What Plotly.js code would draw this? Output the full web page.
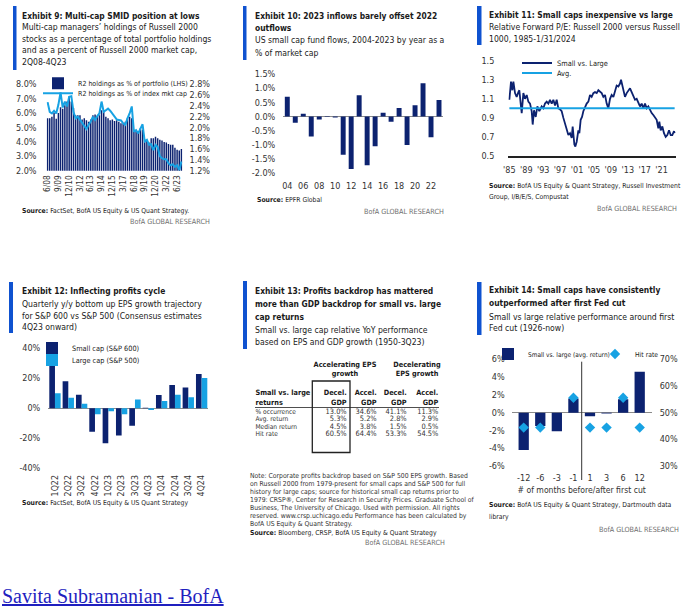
<!DOCTYPE html>
<html>
<head>
<meta charset="utf-8">
<script src="https://cdn.plot.ly/plotly-3.0.1.min.js"></script>
<style>
html,body{margin:0;padding:0;background:#fff;}
#chart{width:696px;height:608px;}
</style>
</head>
<body>
<div id="chart"></div>
<script>
// ================= DATA =================
// Exhibit 9: multi-cap managers' Russell 2000 holdings (quarterly, 2Q08-4Q23)
const ex9Quarters = ["6/08","9/08","12/08",
 "3/09","6/09","9/09","12/09","3/10","6/10","9/10","12/10","3/11","6/11","9/11","12/11",
 "3/12","6/12","9/12","12/12","3/13","6/13","9/13","12/13","3/14","6/14","9/14","12/14",
 "3/15","6/15","9/15","12/15","3/16","6/16","9/16","12/16","3/17","6/17","9/17","12/17",
 "3/18","6/18","9/18","12/18","3/19","6/19","9/19","12/19","3/20","6/20","9/20","12/20",
 "3/21","6/21","9/21","12/21","3/22","6/22","9/22","12/22","3/23","6/23","9/23","12/23"];
const ex9Portfolio = [5.65,5.65,5.75,
 6.0,5.6,6.0,6.4, 6.3,6.55,6.8,7.15, 6.8,6.35,5.85,5.85,
 5.85,5.55,5.65,5.5, 5.4,5.55,5.85,5.9, 5.75,5.85,6.2,6.1,
 5.75,5.65,5.5,5.55, 5.45,5.5,5.4,5.3, 5.25,5.4,5.65,5.75,
 5.65,4.85,4.75,4.7, 4.95,4.85,4.0,4.15, 3.95,4.25,4.25,4.35,
 4.25,4.15,4.1,4.0, 3.95,3.85,3.8,3.8, 3.6,3.45,3.4,3.5];
const ex9IndexCap = [2.47,2.29,2.26,
 2.31,2.26,2.42,2.65, 2.37,2.48,2.39,2.57, 2.58,2.29,2.17,2.20,
 2.14,2.08,2.02,1.97, 2.05,2.11,2.20,2.14, 2.21,2.26,2.48,2.29,
 2.32,2.35,2.31,2.26, 2.20,2.15,2.14,2.13, 2.08,2.05,2.17,2.26,
 2.39,1.92,1.95,1.89, 1.98,2.06,1.74,1.77, 1.68,1.69,1.58,1.68,
 1.64,1.47,1.43,1.41, 1.41,1.34,1.30,1.32, 1.27,1.30,1.21,1.37];
const ex9TickLabels = ["6/08","9/09","12/10","3/12","6/13","9/14","12/15","3/17","6/18","9/19","12/20","3/22","6/23"];
const ex9LeftTicks = [2,3,4,5,6,7,8];
const ex9LeftText = ["2.0%","3.0%","4.0%","5.0%","6.0%","7.0%","8.0%"];
const ex9RightTicks = [1.2,1.4,1.6,1.8,2.0,2.2,2.4,2.6,2.8];
const ex9RightText = ["1.2%","1.4%","1.6%","1.8%","2.0%","2.2%","2.4%","2.6%","2.8%"];

// Exhibit 10: US small cap fund flows as % of market cap
const ex10Years = ["04","05","06","07","08","09","10","11","12","13","14","15","16","17","18","19","20","21","22","23"];
const ex10Flows = [0.70,-0.22,0.10,-0.70,-0.10,-0.02,-0.03,-1.35,-1.85,0.75,-1.72,-1.05,0.13,-0.18,0.30,-1.00,0.40,1.17,-0.73,0.58];
const ex10TickLabels = ["04","06","08","10","12","14","16","18","20","22"];
const ex10YTicks = [-2,-1.5,-1,-0.5,0,0.5,1,1.5];
const ex10YText = ["-2.0%","-1.5%","-1.0%","-0.5%","0.0%","0.5%","1.0%","1.5%"];

// Exhibit 11: relative forward P/E Russell 2000 vs Russell 1000
const ex11Dates = [1985.00,1985.16,1985.39,1985.71,1985.95,1986.34,1986.73,1987.13,1987.36,1987.68,1987.92,
 1988.31,1988.70,1989.10,1989.49,1989.89,1990.28,1990.52,1990.83,1991.23,1991.62,1992.09,1992.64,
 1993.04,1993.43,1993.83,1994.22,1994.61,1995.01,1995.40,1995.80,1996.19,1996.58,1996.98,1997.37,
 1997.77,1998.16,1998.55,1998.95,1999.34,1999.74,1999.97,2000.13,2000.37,2000.60,2000.92,2001.31,
 2001.55,2001.86,2002.18,2002.49,2002.89,2003.28,2003.68,2004.07,2004.46,2004.86,2005.25,2005.65,
 2006.04,2006.43,2006.83,2007.22,2007.62,2008.01,2008.40,2008.80,2009.19,2009.59,2009.98,2010.37,
 2010.77,2011.16,2011.40,2011.71,2011.95,2012.34,2012.74,2013.13,2013.53,2013.92,2014.31,2014.71,
 2015.10,2015.50,2015.89,2016.28,2016.68,2017.07,2017.47,2017.86,2018.25,2018.65,2019.04,2019.44,
 2019.83,2020.22,2020.46,2020.78,2021.17,2021.56,2021.96,2022.35,2022.75,2023.14,2023.53,2023.93,2024.08];
const ex11SmallVsLarge = [1.09,1.17,1.28,1.19,1.28,1.16,1.12,1.17,1.19,1.05,0.95,
 1.16,1.10,1.14,1.07,1.05,0.97,0.83,0.98,0.91,1.02,0.97,1.02,
 1.00,1.05,1.07,1.05,1.09,1.05,1.09,1.03,1.09,1.00,0.99,0.97,
 0.90,0.84,0.76,0.72,0.74,0.69,0.81,0.70,0.62,0.60,0.65,0.77,
 0.74,0.88,0.91,0.97,1.02,1.05,1.07,1.14,1.12,1.16,1.17,1.16,
 1.19,1.17,1.16,1.12,1.14,1.05,1.00,1.10,1.14,1.12,1.19,1.24,
 1.23,1.26,1.30,1.24,1.17,1.12,1.16,1.19,1.21,1.17,1.12,1.09,
 1.10,1.05,1.02,1.05,1.00,1.05,1.00,1.02,0.98,0.95,0.93,0.90,
 0.88,0.79,0.86,0.77,0.81,0.74,0.70,0.72,0.77,0.72,0.72,0.76,0.74];
const ex11Avg = 1.0;
const ex11TickVals = [1985,1989,1993,1997,2001,2005,2009,2013,2017,2021];
const ex11TickText = ["'85","'89","'93","'97","'01","'05","'09","'13","'17","'21"];
const ex11YTicks = [0.5,0.7,0.9,1.1,1.3,1.5];
const ex11YText = ["0.5","0.7","0.9","1.1","1.3","1.5"];

// Exhibit 12: quarterly y/y EPS growth
const ex12Quarters = ["1Q22","2Q22","3Q22","4Q22","1Q23","2Q23","3Q23","4Q23","1Q24","2Q24","3Q24","4Q24"];
const ex12Small = [29.1,18.0,9.1,-15.6,-23.3,-18.2,-11.6,0.3,8.9,15.6,13.8,22.9];
const ex12Large = [10.0,7.1,3.1,-4.0,-2.0,-4.0,5.8,-1.1,4.9,9.1,7.3,20.2];
const ex12YTicks = [-40,-20,0,20,40];
const ex12YText = ["-40%","-20%","0%","20%","40%"];

// Exhibit 13: table
const ex13GroupTop = ["Accelerating EPS","Decelerating"];
const ex13GroupBottom = ["growth","EPS growth"];
const ex13RowHeader = ["Small vs. large","returns"];
const ex13ColTop = ["Decel.","Accel.","Decel.","Accel."];
const ex13ColBottom = ["GDP","GDP","GDP","GDP"];
const ex13RowLabels = ["% occurrence","Avg. return","Median return","Hit rate"];
const ex13AccEpsDecGdp = [13.0,5.3,4.5,60.5];
const ex13AccEpsAccGdp = [34.6,5.2,3.8,64.4];
const ex13DecEpsDecGdp = [41.1,2.8,1.5,53.3];
const ex13DecEpsAccGdp = [11.3,2.9,0.5,54.5];

// Exhibit 14: around first Fed cut
const ex14Months = ["-12","-6","-3","-1","1","3","6","12"];
const ex14AvgReturn = [-4.2,-1.5,-2.1,1.6,-0.4,-0.1,1.5,4.6];
const ex14HitRate = [44.4,44.4,null,55.6,44.4,44.4,55.6,44.4];
const ex14YTicks = [-6,-4,-2,0,2,4,6];
const ex14YText = ["-6%","-4%","-2%","0%","2%","4%","6%"];
const ex14Y2Ticks = [30,40,50,60,70];
const ex14Y2Text = ["30%","40%","50%","60%","70%"];

// ================= STYLE / LAYOUT =================
const W = 696, H = 608;
const px = v => v / W, py = v => 1 - v / H;
const FONT = '"Liberation Sans Narrow","DejaVu Sans Condensed","Roboto Condensed","Arial Narrow",Roboto,sans-serif';
const NAVY = '#0c2270', LBLUE = '#17a2e3', TXT = '#1a1a1a', TICK = '#333333', ACCENT = '#0f52d0';
const TS = 8.4;   // title size
const SS = 8.6;   // subtitle size
const SRC = 6.8;  // source size

const traces = [];
// Exhibit 9
traces.push({type:'bar', x:ex9Quarters, y:ex9Portfolio, xaxis:'x', yaxis:'y', width:0.68,
  marker:{color:NAVY, line:{width:0}}, name:'R2 holdings as % of portfolio (LHS)', legend:'legend'});
traces.push({type:'scatter', mode:'lines', x:ex9Quarters, y:ex9IndexCap, xaxis:'x', yaxis:'y2',
  line:{color:LBLUE, width:2}, name:'R2 holdings as % of index mkt cap', legend:'legend2'});
// Exhibit 10
traces.push({type:'bar', x:ex10Years, y:ex10Flows, xaxis:'x2', yaxis:'y3', width:0.62,
  marker:{color:NAVY}, showlegend:false});
// Exhibit 11
traces.push({type:'scatter', mode:'lines', x:ex11Dates, y:ex11SmallVsLarge, xaxis:'x3', yaxis:'y4',
  line:{color:NAVY, width:1.8}, name:'Small vs. Large', legend:'legend3'});
traces.push({type:'scatter', mode:'lines', x:[ex11Dates[0], ex11Dates[ex11Dates.length-1]], y:[ex11Avg, ex11Avg],
  xaxis:'x3', yaxis:'y4', line:{color:LBLUE, width:2}, name:'Avg.', legend:'legend4'});
// Exhibit 12
traces.push({type:'bar', x:ex12Quarters, y:ex12Small, xaxis:'x4', yaxis:'y5',
  marker:{color:NAVY}, name:'Small cap (S&amp;P 600)', legend:'legend5'});
traces.push({type:'bar', x:ex12Quarters, y:ex12Large, xaxis:'x4', yaxis:'y5',
  marker:{color:LBLUE}, name:'Large cap (S&amp;P 500)', legend:'legend6'});
// Exhibit 14
traces.push({type:'bar', x:ex14Months, y:ex14AvgReturn, xaxis:'x5', yaxis:'y6', width:0.62,
  marker:{color:NAVY}, name:'Small vs. large (avg. return)', legend:'legend7'});
traces.push({type:'scatter', mode:'markers', x:ex14Months, y:ex14HitRate, xaxis:'x5', yaxis:'y7',
  marker:{symbol:'diamond', size:8, color:LBLUE}, name:'Hit rate', legend:'legend8'});

// Exhibit 13 table as text marks on a pixel-unit axis pair (x6 / y8)
const colX = [346.7, 376.7, 406.7, 438.3];
const labelX = 255.5;
const rowY = [412, 419.5, 427, 434.5];
const fmt = v => v.toFixed(1) + '%';
const tblText = (x, y, text, pos, size, color, bold) => traces.push({type:'scatter', mode:'text', x, y,
  text: text.map(t => bold ? '<b>' + t + '</b>' : t), textposition:pos, xaxis:'x6', yaxis:'y8', showlegend:false,
  textfont:{family:FONT, size, color}, cliponaxis:false});
const HS = 7.3;
tblText([345, 417], [365, 365], ex13GroupTop, 'middle center', HS, TXT, true);
tblText([345, 417], [374.3, 374.3], ex13GroupBottom, 'middle center', HS, TXT, true);
tblText([labelX], [393.3], [ex13RowHeader[0]], 'middle right', HS, TXT, true);
tblText([labelX], [402.7], [ex13RowHeader[1]], 'middle right', HS, TXT, true);
tblText(colX, colX.map(() => 393.3), ex13ColTop, 'middle left', HS, TXT, true);
tblText(colX, colX.map(() => 402.7), ex13ColBottom, 'middle left', HS, TXT, true);
tblText(rowY.map(() => labelX), rowY, ex13RowLabels, 'middle right', 6.6, '#333', false);
[ex13AccEpsDecGdp, ex13AccEpsAccGdp, ex13DecEpsDecGdp, ex13DecEpsAccGdp].forEach((col, j) =>
  tblText(rowY.map(() => colX[j]), rowY, col.map(fmt), 'middle left', 7.4, '#333', false));

const axBase = {showgrid:false, zeroline:false, ticks:'', showline:false, fixedrange:true,
  tickfont:{family:FONT, size:9, color:TICK}};
const layout = {
  width: W, height: H, margin:{l:0, r:0, t:0, b:0}, paper_bgcolor:'#fff', plot_bgcolor:'rgba(0,0,0,0)',
  hovermode:false, barmode:'group', bargap:0.15, bargroupgap:0, font:{family:FONT, color:TXT},
  xaxis: {...axBase, domain:[px(46.5), px(182.5)], anchor:'y', type:'category', range:[-0.5, 62.5],
    tickmode:'array', tickvals:ex9TickLabels, ticktext:ex9TickLabels, tickangle:-90, ticklabelstandoff:2,
    tickfont:{family:FONT, size:8.3, color:TICK}},
  yaxis: {...axBase, domain:[py(170.7), py(84.3)], anchor:'x', range:[2, 8], tickmode:'array',
    tickvals:ex9LeftTicks, ticktext:ex9LeftText, ticklabelstandoff:9},
  yaxis2: {...axBase, overlaying:'y', side:'right', anchor:'x', range:[1.2, 2.8], tickmode:'array',
    tickvals:ex9RightTicks, ticktext:ex9RightText, ticklabelstandoff:6},
  xaxis2: {...axBase, domain:[px(283.3), px(443)], anchor:'y3', type:'category', range:[-0.5, 19.5],
    tickmode:'array', tickvals:ex10TickLabels, ticktext:ex10TickLabels, ticklabelstandoff:6},
  yaxis3: {...axBase, domain:[py(173.3), py(74)], anchor:'x2', range:[-2, 1.5], tickmode:'array',
    tickvals:ex10YTicks, ticktext:ex10YText, zeroline:true, zerolinecolor:'#8a8a8a', zerolinewidth:1, ticklabelstandoff:7},
  xaxis3: {...axBase, domain:[px(508.3), px(676)], anchor:'y4', range:[1984.75, 2024.4], tickmode:'array',
    tickvals:ex11TickVals, ticktext:ex11TickText, showline:true, linecolor:'#222', linewidth:1.5, ticklabelstandoff:5},
  yaxis4: {...axBase, domain:[py(156), py(60.7)], anchor:'x3', range:[0.5, 1.5], tickmode:'array',
    tickvals:ex11YTicks, ticktext:ex11YText, ticklabelstandoff:13},
  xaxis4: {...axBase, domain:[px(48.3), px(208.3)], anchor:'y5', type:'category', tickangle:-90,
    tickmode:'array', tickvals:ex12Quarters, ticktext:ex12Quarters, ticklabelstandoff:4,
    tickfont:{family:FONT, size:8.8, color:TICK}},
  yaxis5: {...axBase, domain:[py(468.3), py(348.3)], anchor:'x4', range:[-40, 40], tickmode:'array',
    tickvals:ex12YTicks, ticktext:ex12YText, zeroline:true, zerolinecolor:'#8a8a8a', zerolinewidth:1, ticklabelstandoff:7},
  xaxis5: {...axBase, domain:[px(511.7), px(651.7)], anchor:'y6', type:'category', tickmode:'array',
    tickvals:ex14Months, ticktext:ex14Months, ticklabelstandoff:5,
    title:{text:'# of months before/after first cut', font:{family:FONT, size:8.6, color:TICK}, standoff:4}},
  yaxis6: {...axBase, domain:[py(466), py(359.3)], anchor:'x5', range:[-6, 6], tickmode:'array',
    tickvals:ex14YTicks, ticktext:ex14YText, zeroline:true, zerolinecolor:'#8a8a8a', zerolinewidth:1, ticklabelstandoff:6},
  yaxis7: {...axBase, overlaying:'y6', side:'right', anchor:'x5', range:[30, 70], tickmode:'array',
    tickvals:ex14Y2Ticks, ticktext:ex14Y2Text, ticklabelstandoff:7},
  xaxis6: {domain:[px(247), px(447)], anchor:'y8', range:[247, 447], visible:false, fixedrange:true},
  yaxis8: {domain:[py(460), py(355)], anchor:'x6', range:[460, 355], visible:false, fixedrange:true},
};

// legends: one per series so each entry sits where the reference puts it
const leg = (textX, cy, size) => ({x:px(textX - 40), xanchor:'left', y:py(cy), yanchor:'middle',
  bgcolor:'rgba(0,0,0,0)', borderwidth:0, itemwidth:30, font:{family:FONT, size, color:TXT}});
layout.legend = leg(78, 83.3, 7);
layout.legend2 = leg(78, 93.3, 7);
layout.legend3 = leg(557, 63, 7.4);
layout.legend4 = leg(557, 73, 7.4);
layout.legend5 = leg(72, 348, 7.3);
layout.legend6 = leg(72, 360, 7.3);
layout.legend7 = leg(528, 354, 6.5);
layout.legend8 = leg(635, 354, 6.8);

// shapes
const shapes = [];
const accentBar = (x0, x1, y0, y1) => shapes.push({type:'rect', xref:'paper', yref:'paper',
  x0:px(x0), x1:px(x1), y0:py(y1), y1:py(y0), fillcolor:ACCENT, line:{width:0}});
accentBar(13, 16.5, 6, 70);
accentBar(243, 246.5, 6, 60);
accentBar(477, 481.5, 6, 45);
accentBar(9, 13, 282, 333);
accentBar(243, 247, 281, 349);
accentBar(477, 481.5, 282, 335);
// Exhibit 14 divider between before / after first cut
shapes.push({type:'line', xref:'x5', yref:'paper', x0:3.5, x1:3.5, y0:py(480), y1:py(361.7), line:{color:'#333', width:1}});
// Exhibit 13 header rule and highlight box
shapes.push({type:'line', xref:'x6', yref:'y8', x0:255, x1:439, y0:407.5, y1:407.5, line:{color:'#222', width:0.8}});
shapes.push({type:'rect', xref:'x6', yref:'y8', x0:312.3, x1:350, y0:381, y1:452.5, line:{color:'#222', width:1.3}});
layout.shapes = shapes;

// text blocks
const ann = [];
const T = (x, y, text, size, extra) => ann.push(Object.assign({xref:'paper', yref:'paper', x:px(x), y:py(y), text,
  showarrow:false, xanchor:'left', yanchor:'middle', borderpad:0, font:{family:FONT, size, color:TXT}}, extra || {}));
const GR = (xr, y) => T(xr, y, 'BofA GLOBAL RESEARCH', 7.2, {xanchor:'right', font:{family:FONT, size:7.2, color:'#6e6e6e'}});

// Exhibit 9
T(20.7, 16, '<b>Exhibit 9: Multi-cap SMID position at lows</b>', TS);
T(20.7, 27, 'Multi-cap managers’ holdings of Russell 2000', SS);
T(20.7, 38.7, 'stocks as a percentage of total portfolio holdings', SS);
T(20.7, 50.2, 'and as a percent of Russell 2000 market cap,', SS);
T(20.7, 61.8, '2Q08-4Q23', SS);
T(20.7, 210.7, '<b>Source:</b> FactSet, BofA US Equity &amp; US Quant Strategy.', SRC);
GR(210.7, 221.7);
// Exhibit 10
T(254, 16, '<b>Exhibit 10: 2023 inflows barely offset 2022</b>', TS);
T(254, 28.3, '<b>outflows</b>', TS);
T(254, 40, 'US small cap fund flows, 2004-2023 by year as a', SS);
T(254, 52.7, '% of market cap', SS);
T(255.7, 200, '<b>Source:</b> EPFR Global', SRC);
GR(445, 211);
// Exhibit 11
T(487.7, 15, '<b>Exhibit 11: Small caps inexpensive vs large</b>', TS);
T(487.7, 27.3, 'Relative Forward P/E: Russell 2000 versus Russell', SS);
T(487.7, 39.3, '1000, 1985-1/31/2024', SS);
T(488.3, 186, '<b>Source:</b> BofA US Equity &amp; Quant Strategy, Russell Investment', SRC);
T(488.3, 197.3, 'Group, I/B/E/S, Compustat', SRC);
GR(678.3, 208.3);
// Exhibit 12
T(20.7, 290.7, '<b>Exhibit 12: Inflecting profits cycle</b>', TS);
T(20.7, 304, 'Quarterly y/y bottom up EPS growth trajectory', SS);
T(20.7, 315.7, 'for S&amp;P 600 vs S&amp;P 500 (Consensus estimates', SS);
T(20.7, 326.7, '4Q23 onward)', SS);
T(20.7, 503.3, '<b>Source:</b> FactSet, BofA US Equity &amp; US Quant Strategy', SRC);
// Exhibit 13
T(254, 290.7, '<b>Exhibit 13: Profits backdrop has mattered</b>', TS);
T(254, 304, '<b>more than GDP backdrop for small vs. large</b>', TS);
T(254, 317.3, '<b>cap returns</b>', TS);
T(254, 330, 'Small vs. large cap relative YoY performance', SS);
T(254, 342, 'based on EPS and GDP growth (1950-3Q23)', SS);
const ex13Note = [
 'Note: Corporate profits backdrop based on S&amp;P 500 EPS growth. Based',
 'on Russell 2000 from 1979-present for small caps and S&amp;P 500 for full',
 'history for large caps; source for historical small cap returns prior to',
 '1979: CRSP®, Center for Research in Security Prices. Graduate School of',
 'Business, The University of Chicago. Used with permission. All rights',
 'reserved. www.crsp.uchicago.edu Performance has been calculated by',
 'BofA US Equity &amp; Quant Strategy.'];
ex13Note.forEach((line, i) => T(249, 476 + i * 8.05, line, 6.8, {font:{family:FONT, size:6.8, color:'#333'}}));
T(249, 533.3, '<b>Source:</b> Bloomberg, CRSP, BofA US Equity &amp; Quant Strategy', SRC);
GR(445.7, 542.3);
// Exhibit 14
T(488.3, 290, '<b>Exhibit 14: Small caps have consistently</b>', TS);
T(488.3, 303.3, '<b>outperformed after first Fed cut</b>', TS);
T(488.3, 316.7, 'Small vs large relative performance around first', SS);
T(488.3, 327.7, 'Fed cut (1926-now)', SS);
T(488.3, 505, '<b>Source:</b> BofA US Equity &amp; Quant Strategy, Dartmouth data', SRC);
T(488.3, 517, 'library', SRC);
GR(680, 529);
// footer link
T(1, 596, '<u>Savita Subramanian - BofA</u>', 20, {font:{family:'"Liberation Serif","DejaVu Serif",serif', size:20, color:'#1f1fbf'}});
layout.annotations = ann;

Plotly.newPlot('chart', traces, layout, {displayModeBar:false, staticPlot:true});
</script>
</body>
</html>
